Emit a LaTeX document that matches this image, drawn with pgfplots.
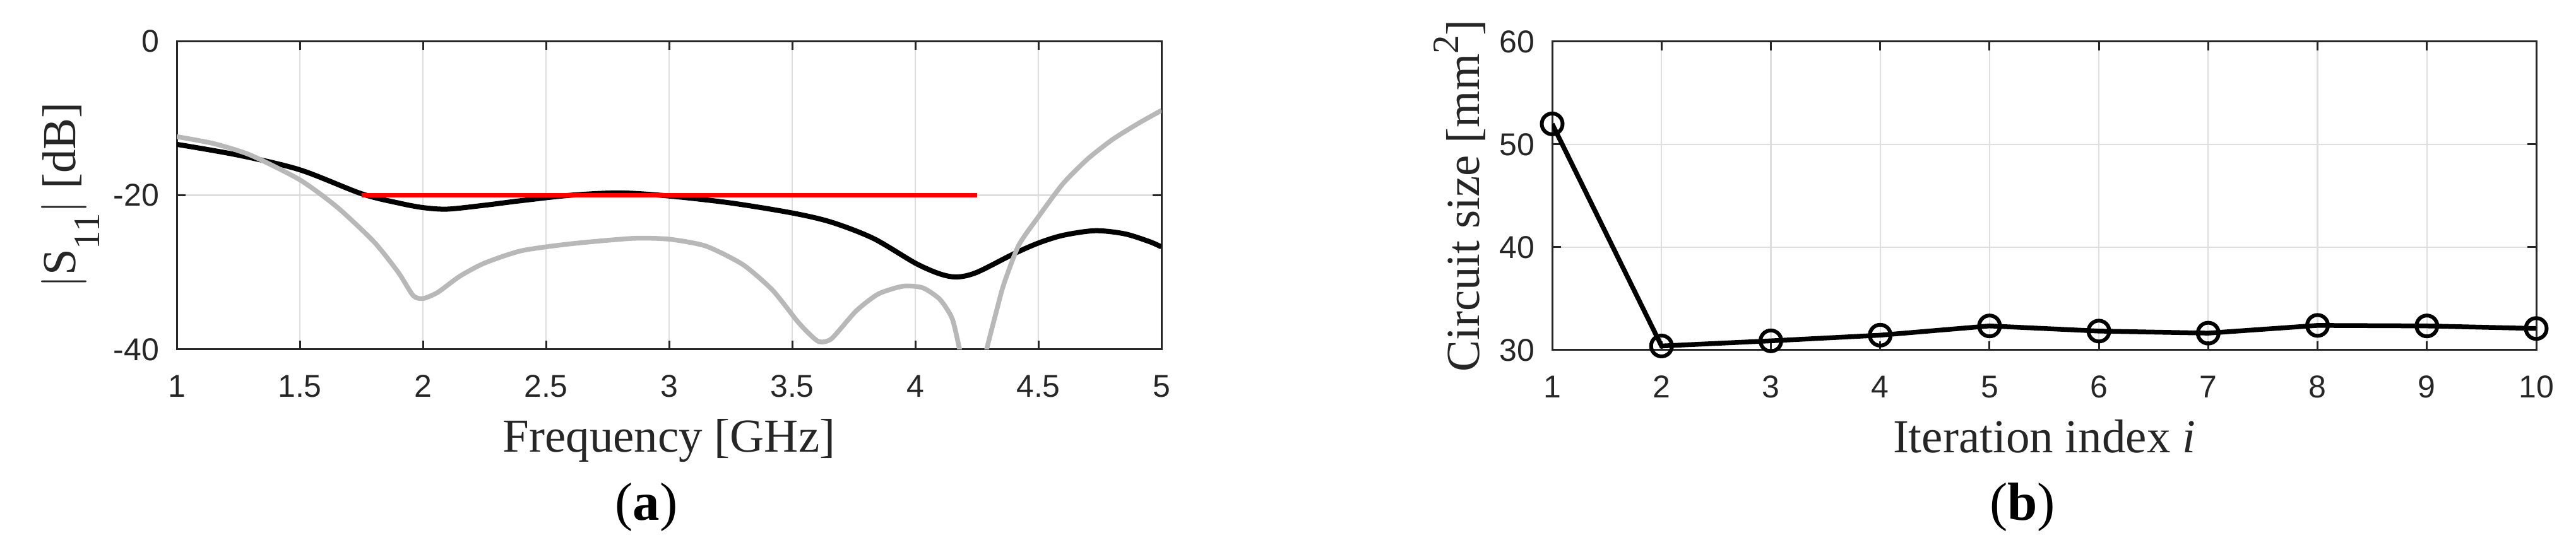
\documentclass[border=0pt]{standalone}
\usepackage{fontspec}
\setmainfont{Liberation Serif}
\newfontfamily\ticksf{Liberation Sans}
\usepackage{pgfplots}
\pgfplotsset{compat=1.18}

\definecolor{axgray}{RGB}{38,38,38}
\definecolor{gridgray}{RGB}{222,222,222}
\definecolor{initgray}{RGB}{184,184,184}

% matlab-like look shared by both panels
\pgfplotsset{
  matlab/.style={
    scale only axis,
    axis line style={axgray, line width=0.6pt},
    every tick/.style={axgray, line width=0.6pt},
    major tick length=2.8pt,
    tick align=inside,
    xtick pos=both, ytick pos=both,
    grid=major,
    major grid style={gridgray, line width=0.45pt},
    tick label style={font={\ticksf\fontsize{10pt}{12pt}\selectfont}, text=axgray},
    /pgf/number format/assume math mode=true,
    xticklabel style={anchor=base, yshift=-15.2pt},
    yticklabel style={xshift=-2.1pt},
    label style={font={\fontsize{15pt}{18pt}\selectfont}, text=axgray},
    xlabel style={at={(axis description cs:0.5,-0.3333)}, anchor=base},
  }
}

\begin{document}
\begin{tikzpicture}
\useasboundingbox (0,0) rectangle (816.2pt,176.6pt);

% (a) reflection coefficient
\begin{axis}[
    matlab,
    at={(56pt,65.8pt)}, anchor=south west,
    width=312pt, height=97.8pt,
    xmin=1, xmax=5, ymin=-40, ymax=0,
    xtick={1,1.5,2,2.5,3,3.5,4,4.5,5},
    ytick={-40,-20,0},
    yticklabels={{-40},{-20},{0}},
    xlabel={Frequency [GHz]},
    ylabel={$|$S\raisebox{-0.5em}{\fontsize{11.8pt}{12pt}\selectfont 11}$|$ [dB]},
    ylabel style={at={(axis description cs:-0.1026,0.5)}, anchor=base},
]
% optimized design
\addplot[black, line width=1.6pt, no markers, smooth, tension=0.5] coordinates {
(1.0,-13.4) (1.25,-14.8) (1.5,-16.7) (1.75,-19.8) (1.9,-21.0) (2.0,-21.6)
(2.1,-21.8) (2.25,-21.3) (2.4,-20.7) (2.6,-20.0) (2.8,-19.7) (3.0,-20.1)
(3.25,-21.0) (3.5,-22.3) (3.66,-23.5) (3.83,-25.6) (4.0,-28.8) (4.1,-30.2)
(4.17,-30.6) (4.25,-30.0) (4.4,-27.6) (4.5,-26.2) (4.6,-25.2) (4.73,-24.6)
(4.85,-25.0) (4.95,-26.0) (5.0,-26.7)
};
% initial design
\addplot[initgray, line width=1.5pt, no markers, smooth, tension=0.4] coordinates {
(1.0,-12.4) (1.15,-13.3) (1.3,-14.8) (1.5,-18.0) (1.65,-21.5) (1.8,-26.0)
(1.9,-30.0) (1.96,-33.0) (2.0,-33.4) (2.06,-32.6) (2.15,-30.5) (2.25,-28.8)
(2.4,-27.2) (2.6,-26.3) (2.85,-25.6) (3.0,-25.7) (3.15,-26.6) (3.3,-29.0)
(3.42,-32.3) (3.52,-36.3) (3.57,-38.0) (3.61,-39.0) (3.66,-38.6) (3.76,-35.0)
(3.85,-32.8) (3.95,-31.8) (4.03,-32.0) (4.1,-33.5) (4.15,-36.0) (4.18,-40.0)
(4.2,-43.0) (4.235,-48.0) (4.275,-43.0) (4.29,-40.0) (4.33,-35.0) (4.36,-31.5)
(4.42,-26.5) (4.5,-22.8) (4.6,-18.5) (4.7,-15.3) (4.8,-12.8) (4.9,-10.8)
(5.0,-9.0)
};
% specification
\addplot[red, line width=1.5pt, no markers] coordinates {(1.75,-20) (4.25,-20)};
\end{axis}

% (b) circuit size versus iteration
\begin{axis}[
    matlab,
    at={(491.8pt,65.6pt)}, anchor=south west,
    width=311.8pt, height=97.8pt,
    xmin=1, xmax=10, ymin=30, ymax=60,
    xtick={1,...,10},
    ytick={30,40,50,60},
    xlabel={Iteration index \textit{i}},
    ylabel={Circuit size [mm\raisebox{0.45em}{\fontsize{11.8pt}{12pt}\selectfont 2}]},
    ylabel style={at={(axis description cs:-0.0738,0.5)}, anchor=base},
]
\addplot[black, line width=1.5pt, mark=o, mark size=3.3pt,
         mark options={solid, line width=1.2pt}] coordinates {
(1,52.0) (2,30.4) (3,30.9) (4,31.45) (5,32.35)
(6,31.85) (7,31.65) (8,32.4) (9,32.35) (10,32.1)
};
\end{axis}

\node[anchor=base, font={\fontsize{17pt}{20pt}\selectfont}] at (204.8pt,11.6pt) {(\textbf{a})};
\node[anchor=base, font={\fontsize{17pt}{20pt}\selectfont}] at (640.8pt,11.6pt) {(\textbf{b})};
\end{tikzpicture}
\end{document}
